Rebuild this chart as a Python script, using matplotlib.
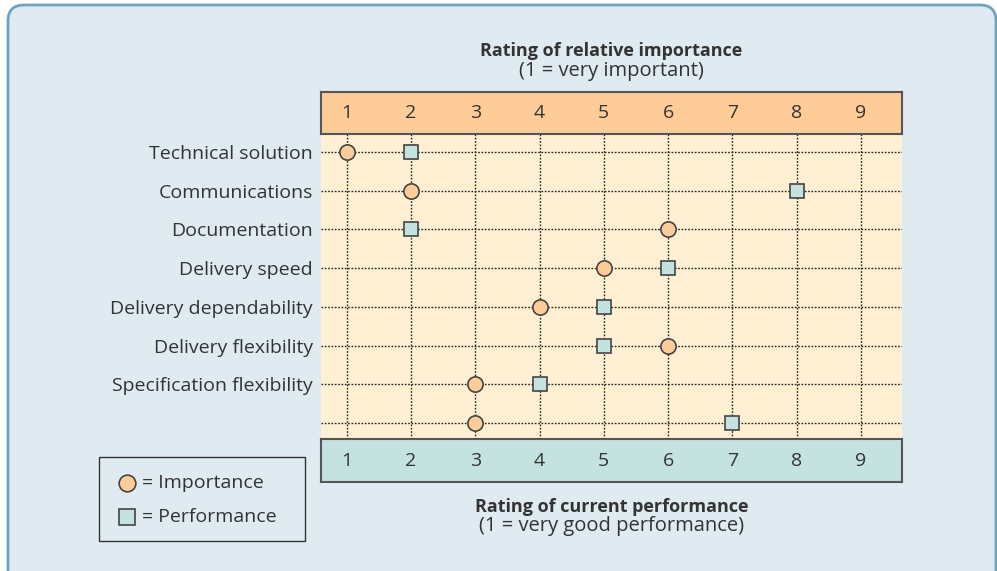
"""Importance-performance grid: rating of relative importance vs current performance."""

import matplotlib

matplotlib.use("Agg")
import matplotlib.pyplot as plt
from matplotlib.lines import Line2D
from matplotlib.patches import FancyBboxPatch, Rectangle
from matplotlib.transforms import blended_transform_factory

factors = [
    "Technical solution",
    "Communications",
    "Documentation",
    "Delivery speed",
    "Delivery dependability",
    "Delivery flexibility",
    "Specification flexibility",
    "",
]
importance = [1, 2, 6, 5, 4, 6, 3, 3]
performance = [2, 8, 2, 6, 5, 5, 4, 7]
scale = [1, 2, 3, 4, 5, 6, 7, 8, 9]

BG = "#dfeaf1"
BORDER = "#6fa3bf"
ORANGE = "#fecc99"
CREAM = "#fff0d3"
TEAL = "#c4e2df"
TEXT = "#333333"
EDGE = "#444444"
FS = 14

plt.rcParams["font.family"] = ["Open Sans", "DejaVu Sans"]

W, H = 997, 571
fig = plt.figure(figsize=(W / 100, H / 100), dpi=100, facecolor="white")

# rounded background panel (inches)
panel = FancyBboxPatch(
    (8 / 100, -0.3), (996 - 8) / 100, (H - 5) / 100 + 0.3,
    boxstyle="round,pad=0,rounding_size=0.16",
    transform=fig.dpi_scale_trans, facecolor=BG, edgecolor=BORDER,
    linewidth=2.0, zorder=-10,
)
fig.patches.append(panel)


def box(x0, y0, x1, y1):
    # pixel box (top-left origin) -> figure fraction rect
    return [x0 / W, 1 - y1 / H, (x1 - x0) / W, (y1 - y0) / H]


xlim = (0.60, 9.64)
ax = fig.add_axes(box(321, 134, 902, 439))
ax.set_facecolor(CREAM)
ax.set_xlim(*xlim)
ax.set_ylim(8.41, 0.535)
rows = list(range(1, len(factors) + 1))
for r in rows:
    ax.axhline(r, color="#222222", lw=1.0, ls=(0, (1.2, 1.2)), zorder=1)
for c in scale:
    ax.axvline(c, color="#222222", lw=1.0, ls=(0, (1.2, 1.2)), zorder=1)
ax.plot(importance, rows, ls="none", marker="o", ms=11, mfc=ORANGE,
        mec=EDGE, mew=1.2, zorder=3, clip_on=False)
ax.plot(performance, rows, ls="none", marker="s", ms=10.5, mfc=TEAL,
        mec=EDGE, mew=1.2, zorder=3, clip_on=False)
ax.set_yticks(rows)
ax.set_yticklabels(factors, fontsize=FS, color=TEXT)
ax.tick_params(axis="y", length=0, pad=6)
ax.set_xticks([])
for s in ax.spines.values():
    s.set_visible(False)

for rect, color in ((box(321, 92, 902, 134), ORANGE), (box(321, 439, 902, 482), TEAL)):
    bar = fig.add_axes(rect)
    bar.set_facecolor(color)
    bar.set_xlim(*xlim)
    bar.set_xticks([])
    bar.set_yticks([])
    for s in bar.spines.values():
        s.set_color("#555555")
        s.set_linewidth(1.5)
    tr = blended_transform_factory(bar.transData, bar.transAxes)
    for c in scale:
        bar.text(c, 0.5, str(c), transform=tr, ha="center", va="center",
                 fontsize=FS, color=TEXT)

cx = (321 + 902) / 2 / W
fig.text(cx, 1 - 56 / H, "Rating of relative importance", ha="center",
         va="baseline", fontsize=13, fontweight="bold", color=TEXT)
fig.text(cx, 1 - 76 / H, "(1 = very important)", ha="center",
         va="baseline", fontsize=14.5, color=TEXT)
fig.text(cx, 1 - 512 / H, "Rating of current performance", ha="center",
         va="baseline", fontsize=13, fontweight="bold", color=TEXT)
fig.text(cx, 1 - 531 / H, "(1 = very good performance)", ha="center",
         va="baseline", fontsize=14.5, color=TEXT)

# legend box drawn by hand so it keeps the reference's size
fig.patches.append(Rectangle((99 / W, 1 - 541 / H), (305 - 99) / W, (541 - 457) / H,
                             transform=fig.transFigure, facecolor=BG,
                             edgecolor="#333333", linewidth=1.0))
legend_items = [
    ("o", 12, ORANGE, "= Importance", 483),
    ("s", 11.5, TEAL, "= Performance", 517),
]
for marker, ms, fc, label, ypx in legend_items:
    fig.add_artist(Line2D([127 / W], [1 - ypx / H], transform=fig.transFigure,
                          ls="none", marker=marker, ms=ms, mfc=fc, mec=EDGE, mew=1.2))
    fig.text(142 / W, 1 - ypx / H, label, ha="left", va="center",
             fontsize=FS, color=TEXT)

fig.savefig("out.png", dpi=100, facecolor=fig.get_facecolor())
